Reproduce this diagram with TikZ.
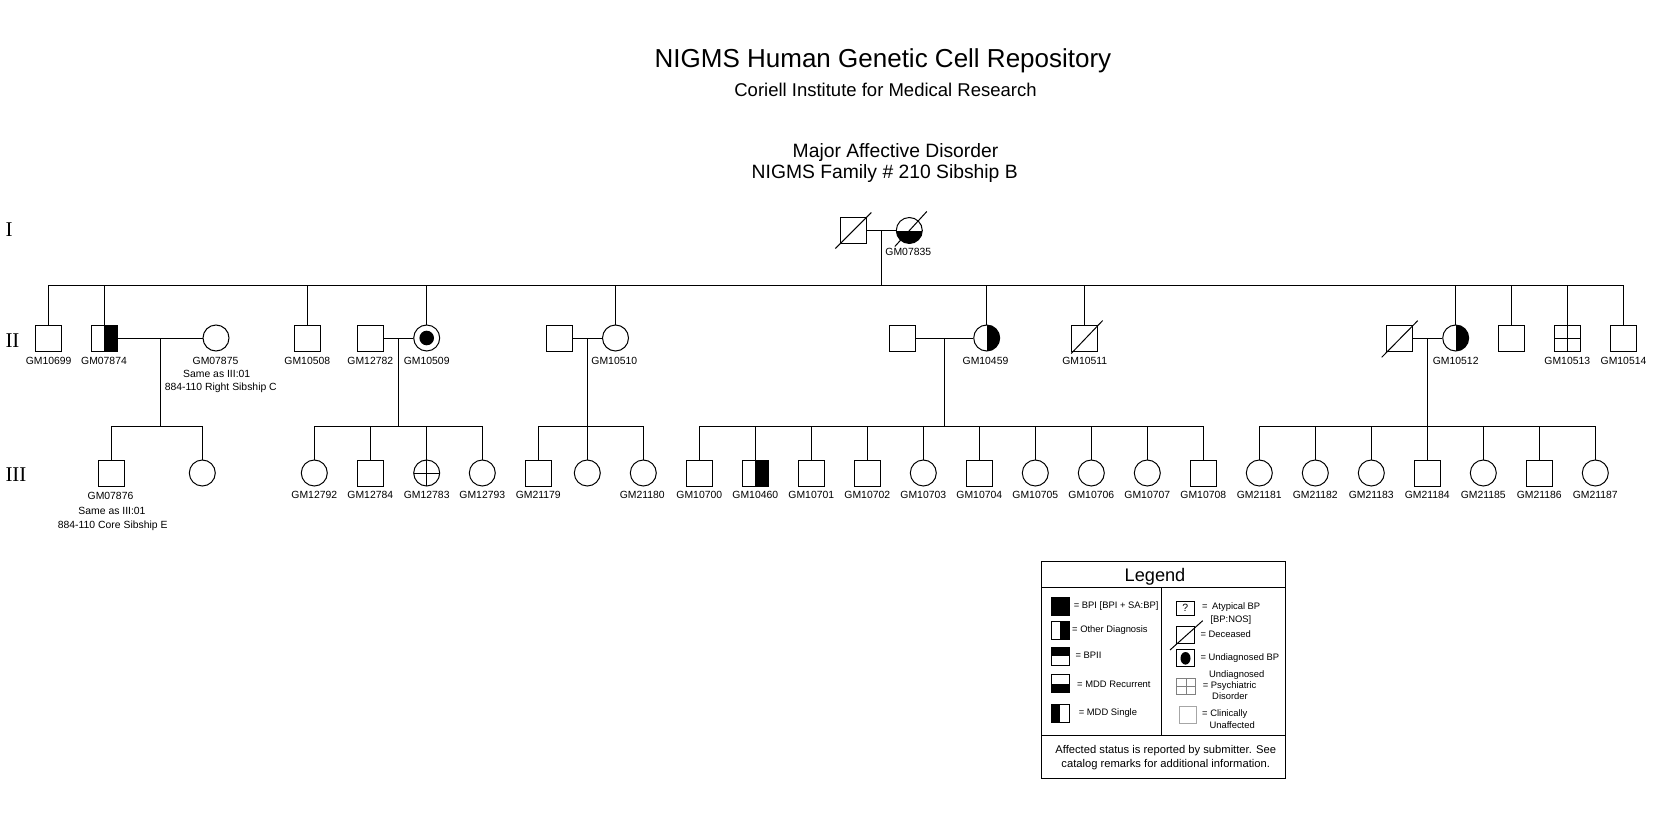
\documentclass[tikz,border=0pt]{standalone}
\usepackage{fontspec}
\setmainfont{Liberation Sans}
\newfontfamily\romanfont{Liberation Serif}
\begin{document}
\begin{tikzpicture}[x=1pt,y=-1pt,line width=1pt,
  male/.style={draw,rectangle,minimum size=26pt,inner sep=0pt},
  female/.style={draw,circle,minimum size=26pt,inner sep=0pt},
  rhalf/.style={path picture={\fill[black] (path picture bounding box.north) rectangle (path picture bounding box.south east);}},
  lhalf/.style={path picture={\fill[black] (path picture bounding box.north west) rectangle (path picture bounding box.south);}},
  thalf/.style={path picture={\fill[black] (path picture bounding box.north west) rectangle (path picture bounding box.east);}},
  bhalf/.style={path picture={\fill[black] (path picture bounding box.west) rectangle (path picture bounding box.south east);}},
  quad/.style={path picture={\draw (path picture bounding box.north) -- (path picture bounding box.south) (path picture bounding box.west) -- (path picture bounding box.east);}},
  dotted in/.style={path picture={\fill[black] (path picture bounding box.center) circle (7.3pt);}},
  lbl/.style={inner sep=0pt,font=\fontsize{10.4}{12}\selectfont},
  gen/.style={inner sep=0pt,anchor=west,font=\romanfont\fontsize{21}{24}\selectfont},
  leg/.style={inner sep=0pt,anchor=west,font=\fontsize{9.4}{11}\selectfont},
  legc/.style={inner sep=0pt,font=\fontsize{9.4}{11}\selectfont},
  legbox/.style={draw,rectangle,minimum width=18pt,minimum height=18pt,inner sep=0pt}
]
\fill[white] (0,0) rectangle (1655,816);
\useasboundingbox (0,0) rectangle (1655,816);

% titles
\node[inner sep=0pt,font=\fontsize{26}{30}\selectfont] (t1) at (883,61) {NIGMS Human Genetic Cell Repository};
\node[inner sep=0pt,font=\fontsize{18.5}{22}\selectfont] (t2) at (885.5,90) {Coriell Institute for Medical Research};
\node[inner sep=0pt,font=\fontsize{19.3}{23}\selectfont] (t3) at (895.5,153) {Major Affective Disorder};
\node[inner sep=0pt,font=\fontsize{19.3}{23}\selectfont] (t4) at (884.7,173.6) {NIGMS Family \# 210 Sibship B};

% generation labels
\node[gen] (gI) at (5,230) {I};
\node[gen] (gII) at (5,341) {II};
\node[gen] (gIII) at (5,475) {III};

% generation I
\node[male] (I1) at (853.3,230.5) {};
\node[female,bhalf] (I2) at (909.3,230.5) {};
\draw ([shift={(-18,18)}]I1.center) -- ([shift={(18,-18)}]I1.center);
\draw ([shift={(-14.5,16)}]I2.center) -- ([shift={(17.5,-19)}]I2.center);
\node[lbl] (lI2) at (908.3,252.3) {GM07835};
\coordinate (m0) at (881,230.5);
\coordinate (s0) at (881,285);
\draw (I1.east) -- (I2.west);
\draw (m0) -- (s0);

% generation II
\node[male] (a1) at (48.7,338) {};
\node[male,rhalf] (a2) at (104.3,338) {};
\node[female] (a2w) at (216,338) {};
\node[male] (a3) at (307.3,338) {};
\node[male] (a4h) at (370.3,338) {};
\node[female,dotted in] (a4) at (426.7,338) {};
\node[male] (a5h) at (559.7,338) {};
\node[female] (a5) at (615.5,338) {};
\node[male] (a6h) at (902.5,338) {};
\node[female,rhalf] (a6) at (986.7,338) {};
\node[male] (a7) at (1084.7,338) {};
\node[male] (a8h) at (1399.7,338) {};
\node[female,rhalf] (a8) at (1455.7,338) {};
\node[male] (a9) at (1511.3,338) {};
\node[male,quad] (a10) at (1567.3,338) {};
\node[male] (a11) at (1623.5,338) {};
\draw ([shift={(-13.5,15.5)}]a7.center) -- ([shift={(18,-17.5)}]a7.center);
\draw ([shift={(-18,19.3)}]a8h.center) -- ([shift={(18,-17.3)}]a8h.center);

\foreach \n in {a1,a2,a3,a4,a5,a6,a7,a8,a9,a10,a11} {\draw (s0) -| (\n.north);}

\node[lbl] (la1) at (48.7,361) {GM10699};
\node[lbl] (la2) at (104,361) {GM07874};
\node[lbl] (la2w) at (215.5,361) {GM07875};
\node[lbl] (la2wb) at (216.7,374) {Same as III:01};
\node[lbl] (la2wc) at (220.8,388) {884-110 Right Sibship C};
\node[lbl] (la3) at (307.3,361) {GM10508};
\node[lbl] (la4h) at (370.3,361) {GM12782};
\node[lbl] (la4) at (426.7,361) {GM10509};
\node[lbl] (la5) at (614.3,361) {GM10510};
\node[lbl] (la6) at (985.5,361) {GM10459};
\node[lbl] (la7) at (1084.7,361) {GM10511};
\node[lbl] (la8) at (1455.7,361) {GM10512};
\node[lbl] (la10) at (1567.3,361) {GM10513};
\node[lbl] (la11) at (1623.5,361) {GM10514};

% marriages and descent
\draw (a2.east) -- (a2w.west);
\draw (a4h.east) -- (a4.west);
\draw (a5h.east) -- (a5.west);
\draw (a6h.east) -- (a6.west);
\draw (a8h.east) -- (a8.west);
\coordinate (m2) at (160.7,338); \coordinate (b2) at (160.7,426.7);
\coordinate (m4) at (398.3,338); \coordinate (b4) at (398.3,426.7);
\coordinate (m5) at (587,338);   \coordinate (b5) at (587,426.7);
\coordinate (m6) at (944.3,338); \coordinate (b6) at (944.3,426.7);
\coordinate (m8) at (1427.5,338); \coordinate (b8) at (1427.5,426.7);
\draw (m2) -- (b2); \draw (m4) -- (b4); \draw (m5) -- (b5); \draw (m6) -- (b6); \draw (m8) -- (b8);

% generation III
\node[male] (c2a) at (111.3,473) {};
\node[female] (c2b) at (202.3,473) {};
\draw (b2) -| (c2a.north); \draw (b2) -| (c2b.north);
\node[lbl] (lc2a) at (110.5,496) {GM07876};
\node[lbl] (lc2ab) at (112,510.7) {Same as III:01};
\node[lbl] (lc2ac) at (112.7,526) {884-110 Core Sibship E};

\node[female] (c4a) at (314.3,473) {};
\node[male] (c4b) at (370.3,473) {};
\node[female,quad] (c4c) at (426.7,473) {};
\node[female] (c4d) at (482.3,473) {};
\foreach \n in {c4a,c4b,c4c,c4d} {\draw (b4) -| (\n.north);}
\node[lbl] (lc4a) at (314.3,495) {GM12792};
\node[lbl] (lc4b) at (370.3,495) {GM12784};
\node[lbl] (lc4c) at (426.7,495) {GM12783};
\node[lbl] (lc4d) at (482.3,495) {GM12793};

\node[male] (c5a) at (538.3,473) {};
\node[female] (c5b) at (587.3,473) {};
\node[female] (c5c) at (643.3,473) {};
\foreach \n in {c5a,c5b,c5c} {\draw (b5) -| (\n.north);}
\node[lbl] (lc5a) at (538.3,495) {GM21179};
\node[lbl] (lc5c) at (642.3,495) {GM21180};

\node[male] (c6a) at (699.3,473) {};
\node[male,rhalf] (c6b) at (755.3,473) {};
\node[male] (c6c) at (811.3,473) {};
\node[male] (c6d) at (867.3,473) {};
\node[female] (c6e) at (923.3,473) {};
\node[male] (c6f) at (979.3,473) {};
\node[female] (c6g) at (1035.3,473) {};
\node[female] (c6h) at (1091.3,473) {};
\node[female] (c6i) at (1147.3,473) {};
\node[male] (c6j) at (1203.3,473) {};
\foreach \n in {c6a,c6b,c6c,c6d,c6e,c6f,c6g,c6h,c6i,c6j} {\draw (b6) -| (\n.north);}
\node[lbl] (lc6a) at (699.3,495) {GM10700};
\node[lbl] (lc6b) at (755.3,495) {GM10460};
\node[lbl] (lc6c) at (811.3,495) {GM10701};
\node[lbl] (lc6d) at (867.3,495) {GM10702};
\node[lbl] (lc6e) at (923.3,495) {GM10703};
\node[lbl] (lc6f) at (979.3,495) {GM10704};
\node[lbl] (lc6g) at (1035.3,495) {GM10705};
\node[lbl] (lc6h) at (1091.3,495) {GM10706};
\node[lbl] (lc6i) at (1147.3,495) {GM10707};
\node[lbl] (lc6j) at (1203.3,495) {GM10708};

\node[female] (c8a) at (1259.3,473) {};
\node[female] (c8b) at (1315.3,473) {};
\node[female] (c8c) at (1371.3,473) {};
\node[male] (c8d) at (1427.3,473) {};
\node[female] (c8e) at (1483.3,473) {};
\node[male] (c8f) at (1539.3,473) {};
\node[female] (c8g) at (1595.3,473) {};
\foreach \n in {c8a,c8b,c8c,c8d,c8e,c8f,c8g} {\draw (b8) -| (\n.north);}
\node[lbl] (lc8a) at (1259.3,495) {GM21181};
\node[lbl] (lc8b) at (1315.3,495) {GM21182};
\node[lbl] (lc8c) at (1371.3,495) {GM21183};
\node[lbl] (lc8d) at (1427.3,495) {GM21184};
\node[lbl] (lc8e) at (1483.3,495) {GM21185};
\node[lbl] (lc8f) at (1539.3,495) {GM21186};
\node[lbl] (lc8g) at (1595.3,495) {GM21187};

% legend
\draw (1041.7,561.7) rectangle (1285,778.3);
\draw (1041.7,587.3) -- (1285,587.3);
\draw (1041.7,735) -- (1285,735);
\draw (1161.3,587.3) -- (1161.3,735);
\node[inner sep=0pt,font=\fontsize{18.2}{22}\selectfont] (lgt) at (1155,576.3) {Legend};

\node[legbox,fill=black] (k1) at (1060,606) {};
\node[legbox,rhalf] (k2) at (1060,630.8) {};
\node[legbox,thalf] (k3) at (1060,656.3) {};
\node[legbox,bhalf] (k4) at (1060,683.8) {};
\node[legbox,lhalf] (k5) at (1060,713.3) {};
\node[leg] (kt1) at (1073.3,606) {= BPI [BPI + SA:BP]};
\node[leg] (kt2) at (1071.7,630.5) {= Other Diagnosis};
\node[leg] (kt3) at (1075,655.7) {= BPII};
\node[leg] (kt4) at (1076.7,684) {= MDD Recurrent};
\node[leg] (kt5) at (1078.3,713.3) {= MDD Single};

\node[draw,rectangle,minimum width=18pt,minimum height=14pt,inner sep=0pt,font=\fontsize{10.5}{12}\selectfont] (q1) at (1185.2,608) {?};
\node[leg] (qt1a) at (1201.7,607) {=};
\node[leg] (qt1b) at (1211.7,607.3) {Atypical BP};
\node[leg] (qt1c) at (1210,620.5) {[BP:NOS]};
\node[draw,rectangle,minimum width=17.6pt,minimum height=17.3pt,inner sep=0pt] (q2) at (1185.5,634.7) {};
\draw ([shift={(-15.5,15.3)}]q2.center) -- ([shift={(17.2,-14)}]q2.center);
\node[leg] (qt2) at (1200,634) {= Deceased};
\node[draw,rectangle,minimum width=17.6pt,minimum height=16.7pt,inner sep=0pt,path picture={\fill[black] (path picture bounding box.center) ellipse (5pt and 6.3pt);}] (q3) at (1185.5,658.3) {};
\node[leg] (qt3) at (1200,657.7) {= Undiagnosed BP};
\node[draw=gray,rectangle,minimum width=19pt,minimum height=15.7pt,inner sep=0pt,path picture={\draw[gray] (path picture bounding box.north) -- (path picture bounding box.south) (path picture bounding box.west) -- (path picture bounding box.east);}] (q4) at (1186.2,686.2) {};
\node[legc] (qt4a) at (1236.7,675) {Undiagnosed};
\node[leg] (qt4b) at (1202.3,686) {= Psychiatric};
\node[leg] (qt4c) at (1211.7,696.5) {Disorder};
\node[draw=gray!70,rectangle,minimum width=17.4pt,minimum height=16.6pt,inner sep=0pt] (q5) at (1188,715) {};
\node[leg] (qt5a) at (1201.7,713.8) {= Clinically};
\node[leg] (qt5b) at (1209,725) {Unaffected};

\node[inner sep=0pt,font=\fontsize{11.2}{13}\selectfont] (f1) at (1165.7,750.4) {Affected status is reported by submitter. See};
\node[inner sep=0pt,font=\fontsize{11.2}{13}\selectfont] (f2) at (1165.7,764.4) {catalog remarks for additional information.};
\end{tikzpicture}
\end{document}
